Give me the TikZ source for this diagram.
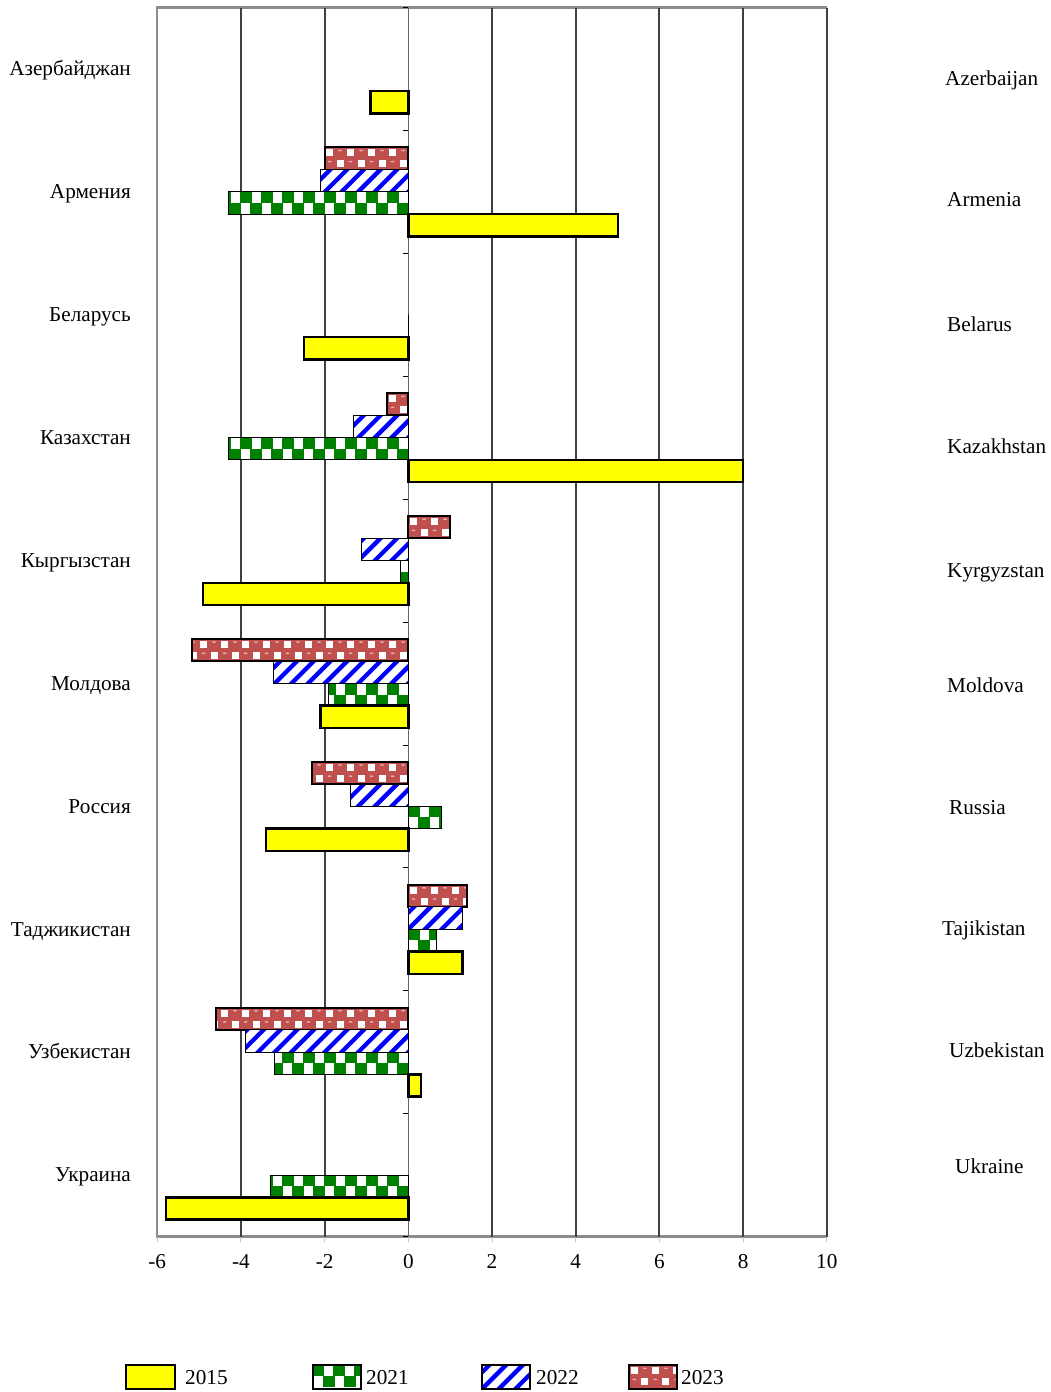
\documentclass[tikz,border=0pt]{standalone}
\usepackage{fontspec}
\setmainfont{Liberation Serif}
\definecolor{chkgreen}{HTML}{008000}
\definecolor{stripeblue}{HTML}{0000FF}
\definecolor{dotred}{HTML}{C0504D}
\definecolor{gridc}{HTML}{404040}
\definecolor{framec}{HTML}{8C8C8C}
\definecolor{baryellow}{HTML}{FFFF00}

% #1 series (0=2023,1=2022,2=2021,3=2015), #2 anchor x, #3 top y, #4 other x, #5 bottom y
\newcommand\patfill[5]{%
 \begin{scope}
 \clip (#2,#3) rectangle (#4,#5);
 \pgfmathtruncatemacro\nn{abs(#4-#2)/10.5+2}%
 \ifcase#1
   \fill[dotred] (#2,#3) rectangle (#4,#5);
   \foreach \i in {-\nn,...,\nn}{\foreach \j in {0,1}{%
      \pgfmathtruncatemacro\pp{mod(\i+\j+200,2)}%
      \ifnum\pp=0
        \fill[white] ({#2+10.5*\i+1.8},{#3+11.15*\j+2}) rectangle +(6.9,7.1);
      \else
        \fill[white!55!dotred] ({#2+10.5*\i+5.25},{#3+11.15*\j+3.3}) ellipse (2 and 0.8);
      \fi}}
 \or
   \fill[white] (#2,#3) rectangle (#4,#5);
   \foreach \i in {-\nn,...,\nn}{%
      \draw[stripeblue,line width=4.3pt] ({#2+16.7*\i-4},{#5+4}) -- ++(31,-31);}
 \or
   \fill[white] (#2,#3) rectangle (#4,#5);
   \foreach \i in {-\nn,...,\nn}{\foreach \j in {0,1}{%
      \pgfmathtruncatemacro\pp{mod(\i+\j+200,2)}%
      \ifnum\pp=0
        \fill[chkgreen] ({#2+10.5*\i-0.7},{#3+11.15*\j}) rectangle +(11.9,11.15);
      \fi}}
 \or
   \fill[baryellow] (#2,#3) rectangle (#4,#5);
 \fi
 \end{scope}
}

% #1 category index, #2 series index, #3 value
\newcommand\mybar[3]{%
 \pgfmathsetmacro\yt{7.5+122.9*#1+16.8+22.3*#2}%
 \pgfmathsetmacro\yb{\yt+22.3}%
 \pgfmathsetmacro\xv{408.3+41.85*(#3)}%
 \patfill{#2}{408.3}{\yt}{\xv}{\yb}%
 \draw[border#2] (408.3,\yt) rectangle (\xv,\yb);
}

\begin{document}
\begin{tikzpicture}[x=1pt,y=-1pt,
  lab/.style={inner sep=0pt,font=\fontsize{21.2}{25}\selectfont},
  border0/.style={draw=black,line width=2pt},
  border1/.style={draw=black,line width=1pt},
  border2/.style={draw=black,line width=1pt},
  border3/.style={draw=black,line width=2.5pt},
  gridline/.style={draw=gridc,line width=2pt},
  frameline/.style={draw=framec,line width=2.5pt},
  swatch/.style={draw=black,line width=2pt}]
\fill[white] (0,0) rectangle (1051,1392);
\useasboundingbox (0,0) rectangle (1051,1392);

% frame and grid
\draw[frameline] (827,7.5) -- (157,7.5) -- (157,1236.5) -- (827,1236.5);
\foreach \v in {-4,-2,2,4,6,8,10}{
  \draw[gridline] ({408.3+41.85*\v},7.5) -- ({408.3+41.85*\v},1236.5);
}
\foreach \v in {-6,-4,-2,0,2,4,6,8,10}{
  \draw[framec!50,line width=1pt] ({408.3+41.85*\v},1236.5) -- ++(0,5);
}
% category axis at zero
\draw[gray!80!black,line width=1pt] (408.3,7.5) -- (408.3,1236.5);
\foreach \k in {0,...,10}{
  \draw[black,line width=0.8pt] (403,{7.5+122.9*\k}) -- (408.3,{7.5+122.9*\k});
}

% bars: category, series (0=2023,1=2022,2=2021,3=2015), value
\mybar{0}{3}{-0.9}
\mybar{1}{0}{-1.99}
\mybar{1}{1}{-2.1}
\mybar{1}{2}{-4.29}
\mybar{1}{3}{5.01}
\mybar{2}{2}{0}
\mybar{2}{3}{-2.49}
\mybar{3}{0}{-0.51}
\mybar{3}{1}{-1.3}
\mybar{3}{2}{-4.3}
\mybar{3}{3}{8.0}
\mybar{4}{0}{1.0}
\mybar{4}{1}{-1.13}
\mybar{4}{2}{-0.19}
\mybar{4}{3}{-4.91}
\mybar{5}{0}{-5.18}
\mybar{5}{1}{-3.22}
\mybar{5}{2}{-1.9}
\mybar{5}{3}{-2.1}
\mybar{6}{0}{-2.29}
\mybar{6}{1}{-1.37}
\mybar{6}{2}{0.79}
\mybar{6}{3}{-3.4}
\mybar{7}{0}{1.4}
\mybar{7}{1}{1.3}
\mybar{7}{2}{0.68}
\mybar{7}{3}{1.3}
\mybar{8}{0}{-4.59}
\mybar{8}{1}{-3.9}
\mybar{8}{2}{-3.2}
\mybar{8}{3}{0.3}
\mybar{9}{2}{-3.29}
\mybar{9}{3}{-5.79}

% x tick labels
\foreach \v/\t [count=\n] in {-6/-6,-4/-4,-2/-2,0/0,2/2,4/4,6/6,8/8,10/10}{
  \node[lab,anchor=base] (xl\n) at ({408.3+41.85*\v},1268) {\t};
}

% left (Russian) labels
\foreach \t [count=\n from 0] in {Азербайджан,Армения,Беларусь,Казахстан,Кыргызстан,Молдова,Россия,Таджикистан,Узбекистан,Украина}{
  \node[lab,anchor=base east] (ru\n) at (131,{69.4+122.9*\n+6.3}) {\t};
}

% right (English) labels
\node[lab,anchor=base west] (en0) at (945,85) {Azerbaijan};
\node[lab,anchor=base west] (en1) at (947,206) {Armenia};
\node[lab,anchor=base west] (en2) at (947,331) {Belarus};
\node[lab,anchor=base west] (en3) at (947,453) {Kazakhstan};
\node[lab,anchor=base west] (en4) at (947,577) {Kyrgyzstan};
\node[lab,anchor=base west] (en5) at (947,692) {Moldova};
\node[lab,anchor=base west] (en6) at (949,814) {Russia};
\node[lab,anchor=base west] (en7) at (942,935) {Tajikistan};
\node[lab,anchor=base west] (en8) at (949,1057) {Uzbekistan};
\node[lab,anchor=base west] (en9) at (955,1173) {Ukraine};

% legend
\patfill{3}{126}{1365}{175}{1389}
\draw[swatch] (126,1365) rectangle (175,1389);
\node[lab,anchor=base west] (lg0) at (185,1384) {2015};
\patfill{2}{313}{1365}{361}{1389}
\draw[swatch] (313,1365) rectangle (361,1389);
\node[lab,anchor=base west] (lg1) at (366,1384) {2021};
\patfill{1}{482}{1365}{530}{1389}
\draw[swatch] (482,1365) rectangle (530,1389);
\node[lab,anchor=base west] (lg2) at (536,1384) {2022};
\patfill{0}{629}{1365}{677}{1389}
\draw[swatch] (629,1365) rectangle (677,1389);
\node[lab,anchor=base west] (lg3) at (681,1384) {2023};
\end{tikzpicture}
\end{document}
